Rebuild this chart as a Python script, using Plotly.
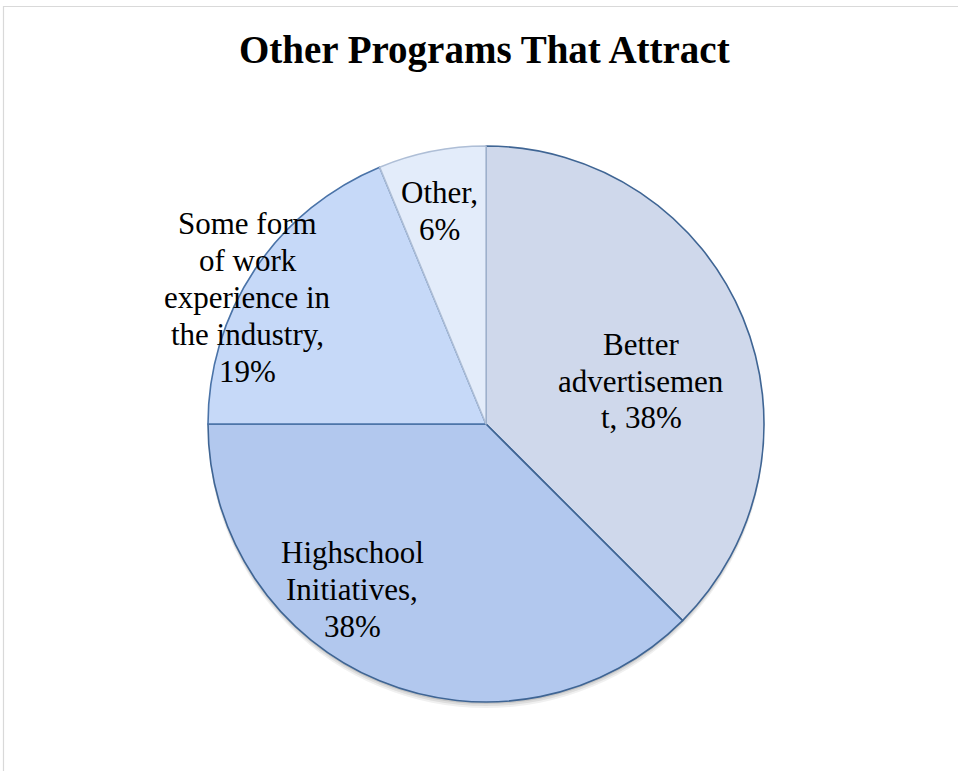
import math
import plotly.graph_objects as go

# Survey responses: which other programs would attract students
categories = ["Better advertisement", "Highschool Initiatives",
              "Some form of work experience in the industry", "Other"]
responses = [6, 6, 3, 1]

# Wrapped label text (category part), as laid out on the chart
label_lines = [
    ["Better", "advertisemen", "t,"],
    ["Highschool", "Initiatives,"],
    ["Some form", "of work", "experience in", "the industry,"],
    ["Other,"],
]

slice_colors = ["#CFD8EB", "#B2C8EE", "#C6D9F8", "#E3ECFA"]
edge_colors = ["#3F6594", "#3F6594", "#4A73A8", "#AEBED6"]

SERIF = "Liberation Serif, Times New Roman, Times, serif"

W, H = 958, 771
# Pie placement in pixels (centre and radius)
cx, cy, r = 486, 424, 278

fig = go.Figure()

# soft drop shadow under the pie
for k, op in [(6, 0.06), (4, 0.08), (2, 0.10)]:
    fig.add_shape(type="circle", xref="paper", yref="paper", layer="below",
                  x0=(cx - r) / W, x1=(cx + r) / W,
                  y0=1 - (cy + r + k) / H, y1=1 - (cy - r + k) / H,
                  fillcolor=f"rgba(0,0,0,{op})", line=dict(width=0))

fig.add_trace(go.Pie(
    labels=categories,
    values=responses,
    sort=False,
    direction="clockwise",
    rotation=0,
    textinfo="none",
    hoverinfo="label+percent",
    marker=dict(colors=slice_colors, line=dict(color=edge_colors, width=1.6)),
    domain=dict(x=[(cx - r) / W, (cx + r) / W],
                y=[1 - (cy + r) / H, 1 - (cy - r) / H]),
    showlegend=False,
))

# Data labels "Category, NN%" placed line by line
total = sum(responses)
label_centres = [(641, 381), (352, 589), (248, 297), (439, 211)]
line_gap = 37
for lines, v, (lx, ly) in zip(label_lines, responses, label_centres):
    pct = math.floor(v / total * 100 + 0.5)
    lines = list(lines)
    if lines[-1] == "t,":
        lines[-1] = f"t, {pct}%"
    else:
        lines.append(f"{pct}%")
    n = len(lines)
    for i, txt in enumerate(lines):
        y = ly + (i - (n - 1) / 2) * line_gap
        fig.add_annotation(x=lx / W, y=1 - y / H, xref="paper", yref="paper",
                           text=txt, showarrow=False, xanchor="center",
                           yanchor="middle",
                           font=dict(family=SERIF, size=31, color="#000000"))

# Title
fig.add_annotation(x=485 / W, y=1 - 50 / H, xref="paper", yref="paper",
                   text="<b>Other Programs That Attract</b>", showarrow=False,
                   xanchor="center", yanchor="middle",
                   font=dict(family=SERIF, size=39, color="#000000"))

# chart area border
fig.add_shape(type="rect", xref="paper", yref="paper",
              x0=3.5 / W, x1=1.05, y0=-0.05, y1=1 - 6.5 / H,
              line=dict(color="#D9D9D9", width=1.2), fillcolor="rgba(0,0,0,0)")

fig.update_layout(
    width=W, height=H,
    margin=dict(l=0, r=0, t=0, b=0),
    paper_bgcolor="#FFFFFF",
    plot_bgcolor="#FFFFFF",
    font=dict(family=SERIF),
)

fig.write_html("out.html")
